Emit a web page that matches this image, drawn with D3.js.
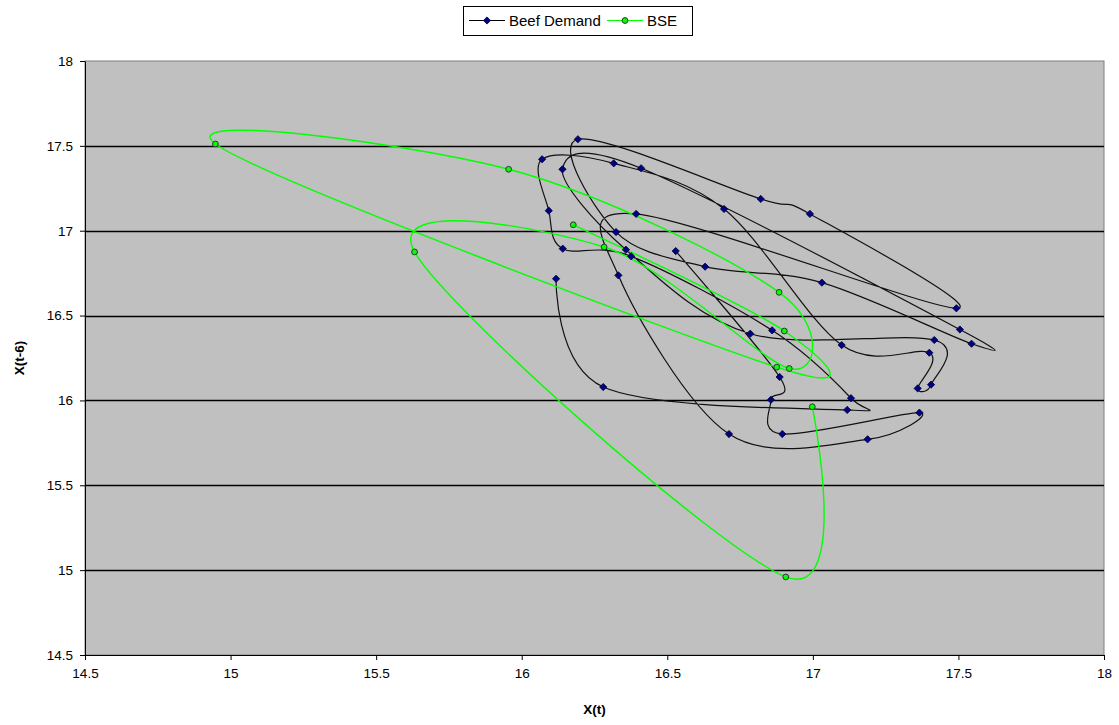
<!DOCTYPE html>
<html>
<head>
<meta charset="utf-8">
<script src="https://cdn.jsdelivr.net/npm/d3@7"></script>
<style>
  body { margin: 0; background: #fff; }
  text { font-family: Arial, "Liberation Sans", sans-serif; }
</style>
</head>
<body>
<svg id="chart"></svg>
<script>
// beef demand, in plotting order: x = X(t), y = X(t-6)
var beefX = [16.118,16.280,17.118,17.131,16.860,16.376,16.141,16.093,16.070,16.316,16.695,17.099,17.400,17.360,17.406,17.417,16.785,16.358,16.140,16.410,17.505,17.545,17.031,16.630,16.324,16.193,16.821,16.990,17.493,16.393,16.332,16.712,17.188,17.366,16.895,16.856,16.886,16.529];
var beefY = [16.717,16.079,15.944,16.013,16.413,16.849,16.894,17.118,17.421,17.397,17.128,16.326,16.281,16.071,16.093,16.356,16.393,16.888,17.362,17.368,16.418,16.334,16.694,16.788,16.992,17.539,17.187,17.099,16.543,17.099,16.737,15.802,15.771,15.928,15.802,16.004,16.138,16.880];

// BSE period
var bseX = [16.177,16.902,16.876,14.948,15.955,16.884,16.919,16.283,15.632,16.907,16.998];
var bseY = [17.035,16.409,16.196,17.511,17.362,16.637,16.188,16.904,16.875,14.960,15.963];

var xTicks = [14.5,15,15.5,16,16.5,17,17.5,18];
var yTicks = [14.5,15,15.5,16,16.5,17,17.5,18];

document.addEventListener("DOMContentLoaded", function() {
  var width = 1119, height = 725;
  var left = 85, right = 1104, top = 61, bottom = 655;

  var svg = d3.select("#chart")
    .attr("width", width)
    .attr("height", height);

  var x = d3.scaleLinear().domain([14.5, 18]).range([left, right]);
  var y = d3.scaleLinear().domain([14.5, 18]).range([bottom, top]);

  // plot area
  svg.append("rect")
    .attr("x", left).attr("y", top)
    .attr("width", right - left).attr("height", bottom - top)
    .attr("fill", "#c0c0c0")
    .attr("stroke", "#808080");

  // horizontal gridlines
  svg.append("g")
    .selectAll("line")
    .data(yTicks.slice(1, -1))
    .enter().append("line")
    .attr("x1", left).attr("x2", right)
    .attr("y1", d => Math.round(y(d)) + 0.5)
    .attr("y2", d => Math.round(y(d)) + 0.5)
    .attr("stroke", "#000")
    .attr("stroke-width", 1.3);

  var xAxis = svg.append("g")
    .attr("transform", "translate(0," + bottom + ")")
    .call(d3.axisBottom(x).tickValues(xTicks).tickFormat(d3.format("")).tickSize(5).tickSizeOuter(0));
  var yAxis = svg.append("g")
    .attr("transform", "translate(" + left + ",0)")
    .call(d3.axisLeft(y).tickValues(yTicks).tickFormat(d3.format("")).tickSize(5).tickSizeOuter(0));

  [xAxis, yAxis].forEach(function(g) {
    g.select(".domain").attr("stroke", "#000");
    g.selectAll(".tick line").attr("stroke", "#000");
    g.selectAll(".tick text")
      .attr("fill", "#000")
      .style("font-size", "13.5px")
      .style("font-family", "Arial, 'Liberation Sans', sans-serif");
  });
  xAxis.selectAll(".tick text").attr("dy", "1.1em");
  yAxis.selectAll(".tick text").attr("dx", "-0.3em");

  // axis titles
  svg.append("text")
    .attr("x", (left + right) / 2).attr("y", 714)
    .attr("text-anchor", "middle")
    .style("font-size", "13.5px").style("font-weight", "bold")
    .text("X(t)");
  svg.append("text")
    .attr("transform", "translate(24," + (top + bottom) / 2 + ") rotate(-90)")
    .attr("text-anchor", "middle")
    .style("font-size", "13.5px").style("font-weight", "bold")
    .text("X(t-6)");

  var line = d3.line()
    .x(d => x(d[0]))
    .y(d => y(d[1]))
    .curve(d3.curveCardinal.tension(0));

  var beef = beefX.map((v, i) => [v, beefY[i]]);
  var bse = bseX.map((v, i) => [v, bseY[i]]);

  svg.append("path")
    .datum(beef)
    .attr("d", line)
    .attr("fill", "none")
    .attr("stroke", "#111")
    .attr("stroke-width", 1.2);

  svg.append("path")
    .datum(bse)
    .attr("d", line)
    .attr("fill", "none")
    .attr("stroke", "#00ff00")
    .attr("stroke-width", 1.4);

  // square turned 45 degrees, like the Excel diamond
  var diamond = d3.symbol().type(d3.symbolSquare).size(26);

  svg.append("g")
    .selectAll("path")
    .data(beef)
    .enter().append("path")
    .attr("d", diamond)
    .attr("transform", d => "translate(" + x(d[0]) + "," + y(d[1]) + ") rotate(45)")
    .attr("fill", "#000080")
    .attr("stroke", "#000040")
    .attr("stroke-width", 0.8);

  svg.append("g")
    .selectAll("circle")
    .data(bse)
    .enter().append("circle")
    .attr("cx", d => x(d[0]))
    .attr("cy", d => y(d[1]))
    .attr("r", 2.9)
    .attr("fill", "#00ff00")
    .attr("stroke", "#333")
    .attr("stroke-width", 1);

  // legend
  var legend = svg.append("g");
  legend.append("rect")
    .attr("x", 463.5).attr("y", 6.5)
    .attr("width", 229).attr("height", 29)
    .attr("fill", "#fff")
    .attr("stroke", "#000");

  var items = [
    { name: "Beef Demand", color: "#000", marker: "diamond", x0: 469, w: 36 },
    { name: "BSE", color: "#00ff00", marker: "circle", x0: 607, w: 36 }
  ];
  items.forEach(function(it) {
    legend.append("line")
      .attr("x1", it.x0).attr("x2", it.x0 + it.w)
      .attr("y1", 20.5).attr("y2", 20.5)
      .attr("stroke", it.color).attr("stroke-width", 1.2);
    if (it.marker === "diamond") {
      legend.append("path")
        .attr("d", diamond)
        .attr("transform", "translate(" + (it.x0 + it.w / 2) + ",20.5) rotate(45)")
        .attr("fill", "#000080").attr("stroke", "#000040").attr("stroke-width", 0.8);
    } else {
      legend.append("circle")
        .attr("cx", it.x0 + it.w / 2).attr("cy", 20.5).attr("r", 2.9)
        .attr("fill", "#00ff00").attr("stroke", "#333").attr("stroke-width", 1);
    }
    legend.append("text")
      .attr("x", it.x0 + it.w + 4).attr("y", 26)
      .style("font-size", "15px")
      .text(it.name);
  });
});
</script>
</body>
</html>
